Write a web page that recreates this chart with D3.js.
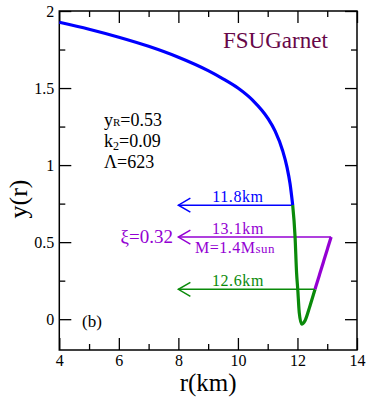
<!DOCTYPE html>
<html>
<head>
<meta charset="utf-8">
<script src="https://cdn.jsdelivr.net/npm/d3@7"></script>
<style>
  body { margin: 0; background: #fff; }
  text { font-family: "Liberation Serif", "DejaVu Serif", serif; }
</style>
</head>
<body>
<svg id="chart" width="374" height="399"></svg>
<script>
// curve samples (r in km, y(r))
const blueR = [4.0, 5.0, 6.0, 7.0, 8.0, 9.0, 9.5, 10.0, 10.5, 11.0, 11.25, 11.5, 11.65, 11.75, 11.84];
const blueY = [1.927, 1.882, 1.830, 1.771, 1.700, 1.613, 1.560, 1.500, 1.420, 1.305, 1.220, 1.095, 0.985, 0.880, 0.740];
const greenR = [11.84, 11.92, 11.97, 12.01, 12.06, 12.14, 12.25, 12.42, 12.59];
const greenY = [0.740, 0.533, 0.302, 0.194, 0.043, -0.032, -0.011, 0.086, 0.194];
const purpleR = [12.59, 13.13];
const purpleY = [0.194, 0.533];

// horizontal arrows: start radius, level, label
const arrowR = [11.84, 13.13, 12.59];
const arrowY = [0.74, 0.533, 0.194];
const arrowLabels = ["11.8km", "13.1km", "12.6km"];
const arrowColors = ["#0000ff", "#9400d3", "#0a8a0a"];
const arrowTip = 8.0;

const xTicks = [4, 6, 8, 10, 12, 14];
const xMinor = [5, 7, 9, 11, 13];
const yTicks = [0, 0.5, 1, 1.5, 2];
const yMinor = [0.25, 0.75, 1.25, 1.75];

const margin = { left: 59.3, right: 17, top: 11, bottom: 49 };
const width = 374, height = 399;

const svg = d3.select("#chart");

const x = d3.scaleLinear().domain([4, 14]).range([margin.left, width - margin.right]);
const y = d3.scaleLinear().domain([-0.2, 2]).range([height - margin.bottom, margin.top]);

// axes: ticks point inward on all four sides
function drawAxis(axisFn, ticks, size, transform, labels, fmt, pad) {
    const g = svg.append("g").attr("transform", transform)
        .call(axisFn.tickValues(ticks).tickSize(size).tickPadding(pad || 3)
            .tickFormat(labels ? fmt : () => ""));
    g.select(".domain").remove();
    g.attr("font-family", null);
    g.selectAll("line").attr("stroke", "#000").attr("stroke-width", 1.3);
    g.selectAll("text").attr("font-size", 16).attr("fill", "#000")
        .style("font-family", "'Liberation Serif', serif");
    return g;
}
const bottomY = y.range()[0], topY = y.range()[1];
const leftX = x.range()[0], rightX = x.range()[1];
const yFmt = d => String(d);

drawAxis(d3.axisBottom(x), xTicks, -12, `translate(0,${bottomY})`, true, d3.format("d"), 5);
drawAxis(d3.axisBottom(x), xMinor, -6, `translate(0,${bottomY})`, false);
drawAxis(d3.axisTop(x), xTicks, -12, `translate(0,${topY})`, false);
drawAxis(d3.axisTop(x), xMinor, -6, `translate(0,${topY})`, false);
drawAxis(d3.axisLeft(y), yTicks, -12, `translate(${leftX},0)`, true, yFmt, 5);
drawAxis(d3.axisLeft(y), yMinor, -6, `translate(${leftX},0)`, false);
drawAxis(d3.axisRight(y), yTicks, -12, `translate(${rightX},0)`, false);
drawAxis(d3.axisRight(y), yMinor, -6, `translate(${rightX},0)`, false);

svg.append("rect")
    .attr("x", leftX).attr("y", topY)
    .attr("width", rightX - leftX).attr("height", bottomY - topY)
    .attr("fill", "none").attr("stroke", "#000").attr("stroke-width", 1.5);

// axis titles
svg.append("text")
    .attr("x", (leftX + rightX) / 2).attr("y", 391)
    .attr("text-anchor", "middle").attr("font-size", 25)
    .text("r(km)");
svg.append("text")
    .attr("transform", `translate(27,199) rotate(-90)`)
    .attr("text-anchor", "middle").attr("font-size", 26)
    .text("y(r)");

// horizontal arrows
arrowR.forEach((r0, i) => {
    const yy = y(arrowY[i]);
    svg.append("line")
        .attr("x1", x(r0)).attr("x2", x(arrowTip))
        .attr("y1", yy).attr("y2", yy)
        .attr("stroke", arrowColors[i]).attr("stroke-width", 1.5);
    const tx = x(arrowTip);
    svg.append("path")
        .attr("d", `M${tx + 12},${yy - 7}L${tx},${yy}L${tx + 12},${yy + 7}`)
        .attr("fill", "none").attr("stroke", arrowColors[i]).attr("stroke-width", 1.5);
    svg.append("text")
        .attr("x", x(10)).attr("y", yy - 3)
        .attr("text-anchor", "middle").attr("font-size", 16)
        .attr("fill", arrowColors[i]).attr("letter-spacing", 0.6)
        .text(arrowLabels[i]);
});

// curve pieces
const line = d3.line().x(d => x(d[0])).y(d => y(d[1])).curve(d3.curveMonotoneX);
const pieces = [
    [blueR, blueY, "#0000ff"],
    [greenR, greenY, "#0a8a0a"],
    [purpleR, purpleY, "#9400d3"]
];
pieces.forEach(([rs, ys, c]) => {
    svg.append("path")
        .datum(rs.map((r, i) => [r, ys[i]]))
        .attr("d", line)
        .attr("fill", "none").attr("stroke", c)
        .attr("stroke-width", 3.2).attr("stroke-linejoin", "round");
});

// annotations
svg.append("text").attr("x", 223).attr("y", 48)
    .attr("font-size", 23).attr("fill", "#670748").text("FSUGarnet");

const info = svg.append("g").attr("font-size", 18).attr("fill", "#000");
const t1 = info.append("text").attr("x", 104).attr("y", 126);
t1.append("tspan").text("y");
t1.append("tspan").attr("font-size", 11).text("R");
t1.append("tspan").text("=0.53");
const t2 = info.append("text").attr("x", 104).attr("y", 147);
t2.append("tspan").text("k");
t2.append("tspan").attr("font-size", 12).attr("dy", 3).text("2");
t2.append("tspan").attr("dy", -3).text("=0.09");
info.append("text").attr("x", 104).attr("y", 168).text("Λ=623");

svg.append("text").attr("x", 173).attr("y", 243)
    .attr("text-anchor", "end").attr("font-size", 19)
    .attr("fill", "#9400d3").text("ξ=0.32");

const m = svg.append("text").attr("x", 195).attr("y", 253)
    .attr("font-size", 16).attr("fill", "#9400d3").attr("letter-spacing", 0.5);
m.append("tspan").text("M=1.4M");
m.append("tspan").attr("font-size", 13).text("sun");

svg.append("text").attr("x", 82).attr("y", 327)
    .attr("font-size", 17).text("(b)");
</script>
</body>
</html>
